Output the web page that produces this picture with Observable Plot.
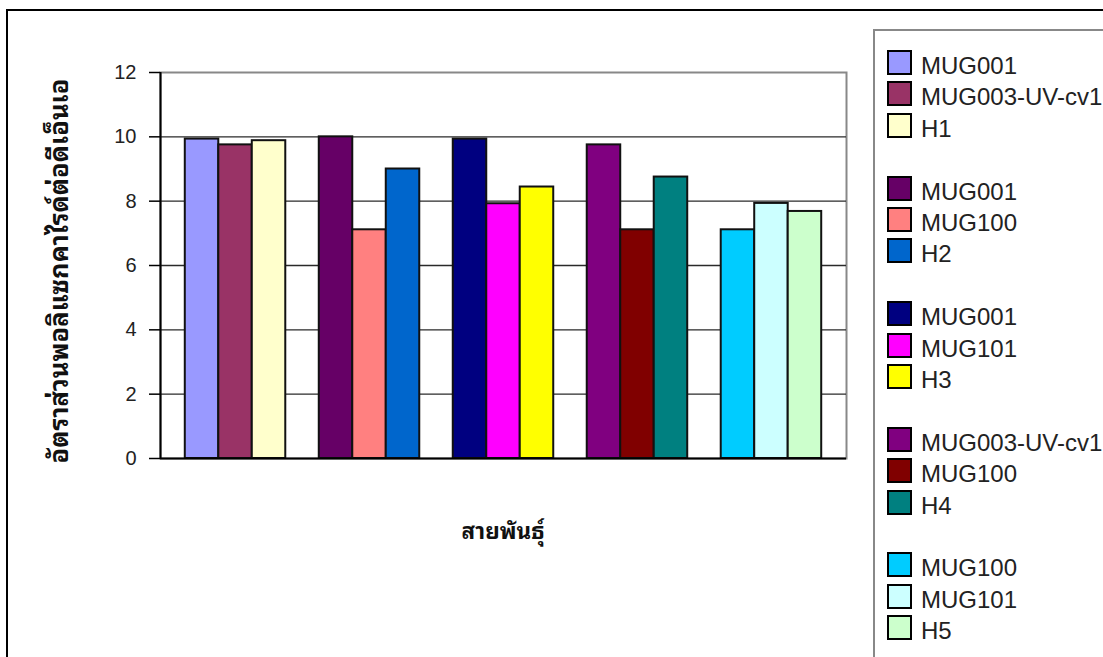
<!DOCTYPE html>
<html>
<head>
<meta charset="utf-8">
<script src="https://cdn.jsdelivr.net/npm/d3@7"></script>
<script src="https://cdn.jsdelivr.net/npm/@observablehq/plot@0.6"></script>
<style>
  body { margin: 0; background: #fff; }
  #chart { position: relative; width: 1103px; height: 657px; overflow: hidden; background: #fff;
           font-family: "Liberation Sans", Arial, sans-serif; }
  #frame { position: absolute; left: 6px; top: 9px; width: 1300px; height: 900px;
           border: 2px solid #000; box-sizing: border-box; }
  #plot { position: absolute; left: 0; top: 0; }
  .thai { font-family: Tahoma, "Noto Sans Thai Looped", Loma, Garuda, Waree, "Noto Sans Thai", "DejaVu Sans", sans-serif;
          font-weight: bold; color: #111; white-space: nowrap; position: absolute; }
  #ytitle { left: 56px; top: 271px; font-size: 25.5px; transform: translate(-50%, -50%) rotate(-90deg); }
  #xtitle { left: 503px; top: 529px; font-size: 22.5px; transform: translate(-50%, -50%); }
  #legend { position: absolute; left: 873px; top: 29px; width: 400px; height: 900px;
            border: 2px solid #888; box-sizing: border-box; background: #fff; }
  .row { position: absolute; left: 12px; height: 25px; width: 380px; }
  .sw { position: absolute; left: 0; top: 0; width: 25px; height: 25px; border: 2px solid #000; box-sizing: border-box; }
  .lb { position: absolute; left: 34px; top: 3px; font-size: 24px; line-height: 25px; color: #222; white-space: nowrap; }
  #plot svg text { font-size: 20px; }
</style>
</head>
<body>
<div id="chart">
  <div id="frame"></div>
  <div id="plot"></div>
  <div id="ytitle" class="thai"></div>
  <div id="xtitle" class="thai"></div>
  <div id="legend"></div>
</div>
<script>
// Polysaccharide-to-DNA ratio for five hybrid groups, each with two parent strains and the hybrid
const groupIds = [0, 1, 2, 3, 4];
const strainNames = [
  ["MUG001", "MUG003-UV-cv1", "H1"],
  ["MUG001", "MUG100", "H2"],
  ["MUG001", "MUG101", "H3"],
  ["MUG003-UV-cv1", "MUG100", "H4"],
  ["MUG100", "MUG101", "H5"]
];
const ratios = [
  [9.93, 9.75, 9.88],
  [10.0, 7.11, 9.0],
  [9.93, 7.92, 8.44],
  [9.75, 7.11, 8.75],
  [7.11, 7.93, 7.68]
];
const barColors = [
  ["#9999FF", "#993366", "#FFFFCC"],
  ["#660066", "#FF8080", "#0066CC"],
  ["#000080", "#FF00FF", "#FFFF00"],
  ["#800080", "#800000", "#008080"],
  ["#00CCFF", "#CCFFFF", "#CCFFCC"]
];
const yTicks = [0, 2, 4, 6, 8, 10, 12];
const yTitle = "อัตราส่วนพอลิแซกคาไรด์ต่อดีเอ็นเอ";
const xTitle = "สายพันธุ์";

// Column layout: gap between clusters equals one bar width
const gapWidth = 1.0;
const slots = 3;
const barW = 1 / (slots + gapWidth);
const xDomain = [-0.56, groupIds.length - 1 + 0.56];

const rows = [];
groupIds.forEach(g => {
  for (let k = 0; k < slots; k++) {
    const x1 = g - (slots * barW) / 2 + k * barW;
    rows.push({ g, k, name: strainNames[g][k], value: ratios[g][k], color: barColors[g][k], x1, x2: x1 + barW });
  }
});

const chart = Plot.plot({
  width: 1103,
  height: 657,
  marginLeft: 160,
  marginRight: 257,
  marginTop: 72,
  marginBottom: 199,
  style: { fontFamily: "'Liberation Sans', Arial, sans-serif", fontSize: "20px", background: "transparent", overflow: "visible" },
  x: { type: "linear", domain: xDomain, axis: null },
  y: { domain: [0, 12], ticks: yTicks },
  color: { type: "identity" },
  marks: [
    Plot.frame({ stroke: "#888", strokeWidth: 2 }),
    Plot.ruleY(yTicks.filter(t => t > 0 && t < 12), { stroke: "#2a2a2a", strokeWidth: 1.4 }),
    Plot.rect(rows, { x1: "x1", x2: "x2", y1: 0, y2: "value", fill: "color", stroke: "#111", strokeWidth: 2 }),
    Plot.ruleY([0], { stroke: "#000", strokeWidth: 2 }),
    Plot.ruleX([xDomain[0]], { stroke: "#000", strokeWidth: 2 }),
    Plot.axisY({ ticks: yTicks, tickSize: 11, tickPadding: 13, fontSize: 20, label: null,
                 stroke: "#000", strokeWidth: 1.5, fill: "#222" })
  ]
});
document.getElementById("plot").appendChild(chart);

document.getElementById("ytitle").textContent = yTitle;
document.getElementById("xtitle").textContent = xTitle;

// Legend: three entries per group followed by one empty row
const legend = document.getElementById("legend");
const rowPitch = 31.4;
const firstTop = 19;
let r = 0;
groupIds.forEach(g => {
  for (let k = 0; k < slots; k++) {
    const row = document.createElement("div");
    row.className = "row";
    row.style.top = (firstTop + r * rowPitch) + "px";
    const sw = document.createElement("div");
    sw.className = "sw";
    sw.style.background = barColors[g][k];
    const lb = document.createElement("div");
    lb.className = "lb";
    lb.textContent = strainNames[g][k];
    row.appendChild(sw);
    row.appendChild(lb);
    legend.appendChild(row);
    r++;
  }
  r++;
});
</script>
</body>
</html>
